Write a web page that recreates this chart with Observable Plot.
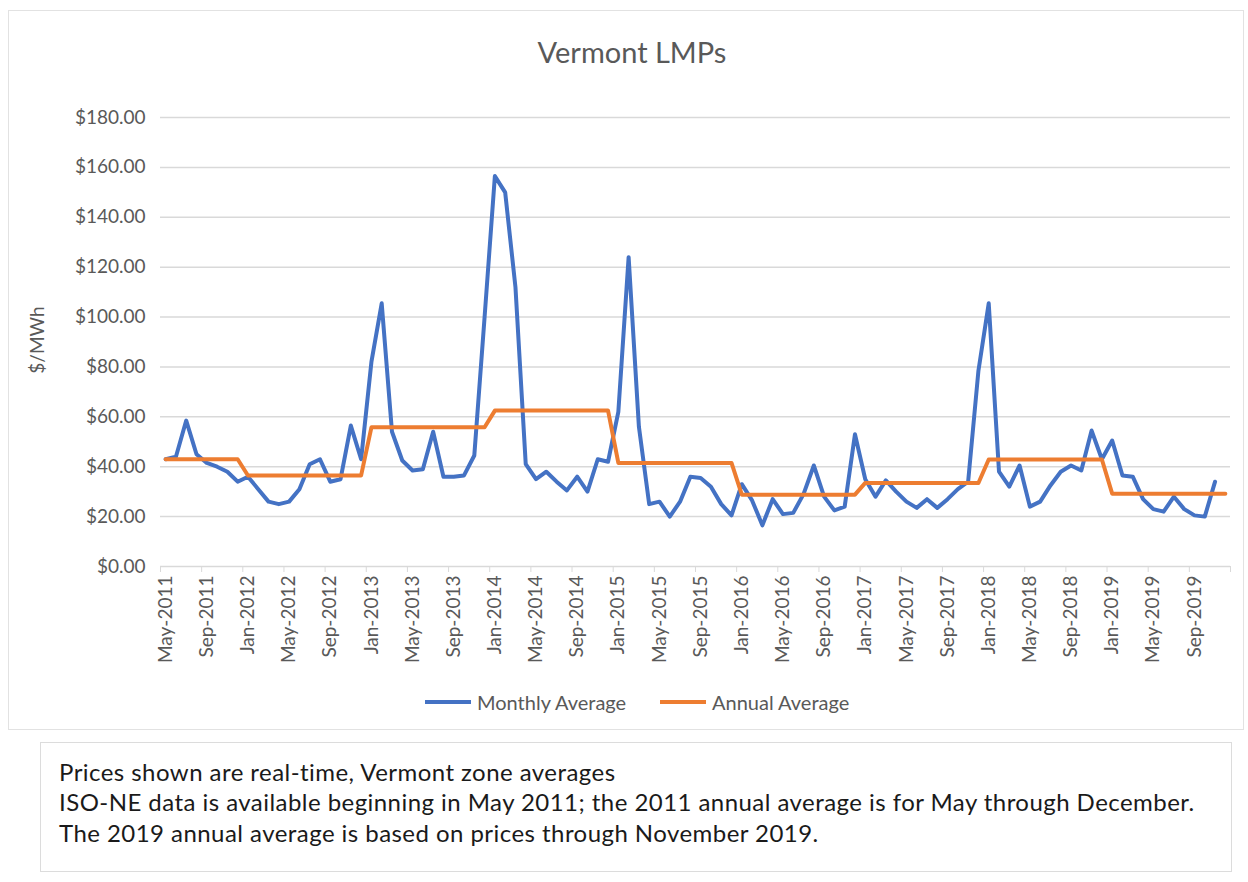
<!DOCTYPE html>
<html><head><meta charset="utf-8">
<script src="https://cdn.jsdelivr.net/npm/d3@7"></script>
<script src="https://cdn.jsdelivr.net/npm/@observablehq/plot@0.6"></script>
<style>
body{margin:0;background:#fff;font-family:Lato,"Open Sans",sans-serif;}
#wrap{position:relative;width:1248px;height:882px;overflow:hidden;}
#frame{position:absolute;left:8px;top:10px;width:1234px;height:718px;border:1px solid #e2e2e2;}
#title{position:absolute;left:8px;width:1248px;top:34px;text-align:center;font-size:29px;color:#595959;}
#ytitle{position:absolute;left:36px;top:340px;transform:translate(-50%,-50%) rotate(-90deg);font-size:19px;color:#595959;white-space:nowrap;}
#chart{position:absolute;left:0;top:0;}
.leg{position:absolute;top:690px;font-size:20px;color:#595959;display:flex;align-items:center;white-space:nowrap;}
.leg span.sw{display:inline-block;width:46px;height:4px;margin-right:6px;}
#note{position:absolute;left:40px;top:742px;width:1192px;height:130px;border:1px solid #dcdcdc;box-sizing:border-box;}
#note div{position:absolute;left:18px;font-size:24px;letter-spacing:0.45px;color:#1a1a1a;white-space:nowrap;}
</style></head>
<body>
<div id="wrap">
  <div id="frame"></div>
  <div id="chart"></div>
  <div id="title">Vermont LMPs</div>
  <div id="ytitle">$/MWh</div>
  <div class="leg" style="left:425px"><span class="sw" style="background:#4472C4"></span>Monthly Average</div>
  <div class="leg" style="left:660px"><span class="sw" style="background:#ED7D31"></span>Annual Average</div>
  <div id="note">
    <div style="top:14px">Prices shown are real-time, Vermont zone averages</div>
    <div style="top:44px">ISO-NE data is available beginning in May 2011; the 2011 annual average is for May through December.</div>
    <div style="top:75px">The 2019 annual average is based on prices through November 2019.</div>
  </div>
</div>
<script>
// Categories: May-2011 through Dec-2019
const months = d3.utcMonths(new Date(Date.UTC(2011, 4, 1)), new Date(Date.UTC(2020, 0, 1)));
const monthLabels = months.map(d3.utcFormat("%b-%Y"));

// Monthly average real-time LMP, $/MWh (May-2011 .. Nov-2019)
const monthly2011 = [43, 44, 58.5, 45, 41.5, 40, 38, 34];
const monthly2012 = [36, 31, 26, 25, 26, 31, 41, 43, 34, 35, 56.5, 43];
const monthly2013 = [82, 105.5, 54, 42.5, 38.5, 39, 54, 36, 36, 36.5, 44.5, 100];
const monthly2014 = [156.5, 150, 112, 41, 35, 38, 34, 30.5, 36, 30, 43, 42];
const monthly2015 = [62, 124, 56, 25, 26, 20, 26, 36, 35.5, 32, 25, 20.5];
const monthly2016 = [33, 26.5, 16.5, 27, 21, 21.5, 29, 40.5, 28, 22.5, 24, 53];
const monthly2017 = [35, 28, 34.5, 30, 26, 23.5, 27, 23.5, 27, 31, 34, 78.5];
const monthly2018 = [105.5, 38, 32, 40.5, 24, 26, 32.5, 38, 40.5, 38.5, 54.5, 43];
const monthly2019 = [50.5, 36.5, 36, 27, 23, 22, 28, 23, 20.5, 20, 34];

// Annual averages
const years = [2011, 2012, 2013, 2014, 2015, 2016, 2017, 2018, 2019];
const annualAvg = [43, 36.5, 55.8, 62.5, 41.5, 28.8, 33.5, 42.9, 29.2];

const yTicks = [0, 20, 40, 60, 80, 100, 120, 140, 160, 180];

const monthlyValues = [].concat(monthly2011, monthly2012, monthly2013, monthly2014, monthly2015,
  monthly2016, monthly2017, monthly2018, monthly2019);
const monthlyData = monthlyValues.map((v, i) => ({x: i + 0.5, v}));
const annualData = months.map((d, i) => ({x: i + 0.5, v: annualAvg[years.indexOf(d.getUTCFullYear())]}));

const labelPos = d3.range(0, months.length, 4).map(i => i + 0.5);
const tickPos = d3.range(0, months.length + 1, 4);

const H = 690;
const chart = Plot.plot({
  width: 1248, height: H,
  marginLeft: 160, marginRight: 18, marginTop: 117, marginBottom: H - 566,
  x: {type: "linear", domain: [0, months.length], axis: null},
  y: {domain: [0, 180], axis: null},
  style: {fontFamily: "Lato, 'Open Sans', sans-serif", background: "transparent", color: "#595959"},
  marks: [
    Plot.gridY(yTicks, {stroke: "#d9d9d9", strokeOpacity: 1, strokeWidth: 1.5}),
    Plot.axisY(yTicks, {tickSize: 0, tickPadding: 15, fontSize: 19, fill: "#595959",
      tickFormat: d => "$" + d.toFixed(2), label: null}),
    Plot.axisX(tickPos, {tickSize: 6, stroke: "#d9d9d9", tickFormat: () => "", label: null}),
    Plot.axisX(labelPos, {tickSize: 0, tickPadding: 9, tickRotate: -90, fontSize: 19, fill: "#595959",
      tickFormat: d => monthLabels[Math.floor(d)], label: null}),
    Plot.line(monthlyData, {x: "x", y: "v", stroke: "#4472C4", strokeWidth: 4, strokeLinejoin: "round"}),
    Plot.line(annualData, {x: "x", y: "v", stroke: "#ED7D31", strokeWidth: 4, strokeLinejoin: "round"})
  ]
});
document.getElementById("chart").appendChild(chart);
</script>
</body></html>
